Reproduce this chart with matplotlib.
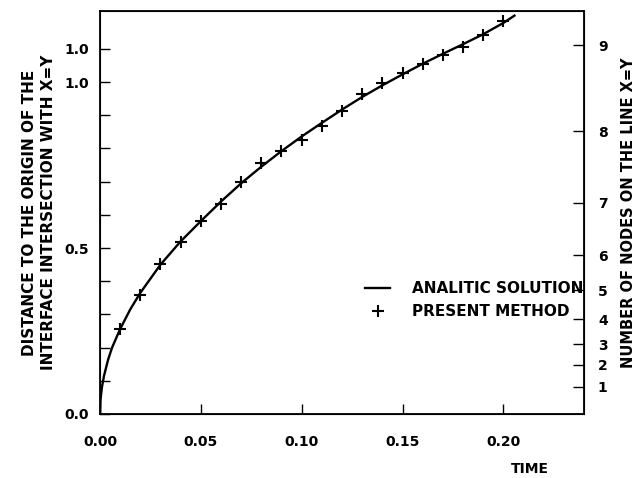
import matplotlib
matplotlib.use("Agg")
import matplotlib.pyplot as plt

# analytic solution curve
t_exact = [0.0, 0.0003, 0.001, 0.002, 0.004, 0.006, 0.01, 0.015, 0.02, 0.03,
           0.04, 0.05, 0.06, 0.07, 0.08, 0.09, 0.10, 0.11, 0.12, 0.13,
           0.14, 0.15, 0.16, 0.17, 0.18, 0.19, 0.20, 0.2055]
d_exact = [0.0, 0.045, 0.082, 0.115, 0.163, 0.200, 0.256, 0.315, 0.365, 0.450,
           0.520, 0.581, 0.640, 0.695, 0.745, 0.792, 0.836, 0.877, 0.917, 0.955,
           0.990, 1.023, 1.055, 1.085, 1.114, 1.144, 1.178, 1.200]

# present method
t_num = [0.01, 0.02, 0.03, 0.04, 0.05, 0.06, 0.07, 0.08, 0.09, 0.10,
         0.11, 0.12, 0.13, 0.14, 0.15, 0.16, 0.17, 0.18, 0.19, 0.20]
d_num = [0.256, 0.358, 0.451, 0.519, 0.581, 0.632, 0.698, 0.755, 0.793, 0.825,
         0.868, 0.914, 0.963, 0.996, 1.026, 1.053, 1.081, 1.106, 1.142, 1.185]

# left axis ticks (the top one is printed "1.0" in the original)
y_ticks = [0.0, 0.1, 0.2, 0.3, 0.4, 0.5, 0.6, 0.7, 0.8, 0.9, 1.0, 1.1]
y_labels = ["0.0", "", "", "", "", "0.5", "", "", "", "", "1.0", "1.0"]
x_ticks = [0.0, 0.05, 0.10, 0.15, 0.20]
x_labels = ["0.00", "0.05", "0.10", "0.15", "0.20"]

# right axis: number of nodes on the line x=y
node_pos = [0.082, 0.148, 0.210, 0.285, 0.373, 0.478, 0.636, 0.852, 1.111]
node_labels = ["1", "2", "3", "4", "5", "6", "7", "8", "9"]

plt.rcParams["font.family"] = "DejaVu Sans"
plt.rcParams["font.weight"] = "bold"

fig = plt.figure(figsize=(6.38, 4.78), dpi=100)
ax = fig.add_axes([0.1567, 0.1339, 0.7587, 0.8431])

ax.plot(t_exact, d_exact, color="black", lw=1.7, label="ANALITIC SOLUTION")
ax.plot(t_num, d_num, "+", color="black", ms=8, mew=1.5, label="PRESENT METHOD")

ax.set_xlim(0, 0.24)
ax.set_ylim(0, 1.214)
ax.set_xticks(x_ticks)
ax.set_xticklabels(x_labels)
ax.set_yticks(y_ticks)
ax.set_yticklabels(y_labels)
ax.tick_params(axis="both", direction="in", length=7, width=1, labelsize=10)
ax.tick_params(axis="x", pad=15)
ax.tick_params(axis="y", pad=8)
for s in ax.spines.values():
    s.set_linewidth(1.3)

ax.set_ylabel("DISTANCE TO THE ORIGIN OF THE\nINTERFACE INTERSECTION WITH X=Y",
              fontsize=11, fontweight="bold", linespacing=1.4)
ax.yaxis.set_label_coords(-0.09, 0.5)
ax.set_xlabel("TIME", fontsize=10, fontweight="bold")
ax.xaxis.set_label_coords(0.888, -0.12)

ax2 = ax.twinx()
ax2.set_ylim(ax.get_ylim())
ax2.set_yticks(node_pos)
ax2.set_yticklabels(node_labels)
ax2.tick_params(axis="y", direction="in", length=8, width=1, labelsize=10, pad=10)
ax2.set_ylabel("NUMBER OF NODES ON THE LINE X=Y", fontsize=10.5, fontweight="bold")
ax2.yaxis.set_label_coords(1.076, 0.5)

ax.legend(loc="upper left", bbox_to_anchor=(0.535, 0.345), frameon=False,
          fontsize=11, handlelength=1.65, handletextpad=1.4, labelspacing=0.55,
          borderaxespad=0)

fig.savefig("out.png", dpi=100)
